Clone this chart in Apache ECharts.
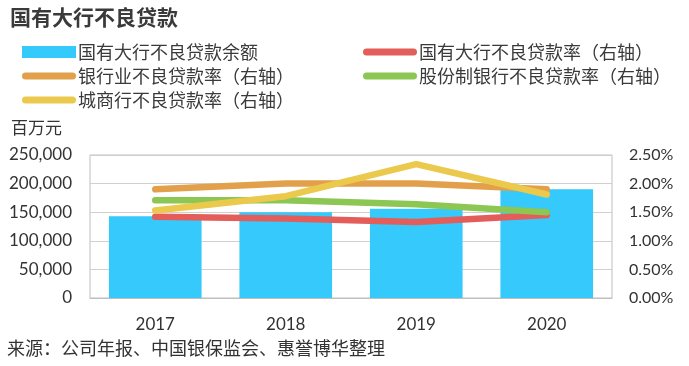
<!DOCTYPE html>
<html><head><meta charset="utf-8">
<script src="https://cdn.jsdelivr.net/npm/echarts@6/dist/echarts.min.js"></script>
<style>html,body{margin:0;padding:0;background:#fff}#c{width:689px;height:366px}</style>
</head><body><div id="c"></div>
<script>
var years = ['2017','2018','2019','2020'];
var bigBankNplAmount = [143000, 150000, 156000, 190000];
var bigBankNplRatio = [1.42, 1.39, 1.33, 1.45];
var industryNplRatio = [1.90, 2.00, 2.00, 1.90];
var jointStockNplRatio = [1.71, 1.71, 1.64, 1.50];
var cityBankNplRatio = [1.53, 1.78, 2.34, 1.81];
var leftTicks = [0, 250000, 50000];
var rightTicks = [0, 2.5, 0.5];

var names = ['国有大行不良贷款余额','国有大行不良贷款率（右轴）','银行业不良贷款率（右轴）','股份制银行不良贷款率（右轴）','城商行不良贷款率（右轴）'];
var colors = ['#36c9fb','#e35d5a','#e3a04a','#8cc653','#ebc94c'];
var FONT = "Lato, 'Noto Sans CJK SC', sans-serif";
var CJK = "'Noto Sans CJK SC', sans-serif";
var LINE_ICON = 'path://M3.5,0 L50.5,0 A3.5,3.5 0 0 1 50.5,7 L3.5,7 A3.5,3.5 0 0 1 3.5,0 Z';

var chart = echarts.init(document.getElementById('c'));
function lineSeries(i, data){
  return {name:names[i], type:'line', yAxisIndex:1, data:data, symbol:'none',
    lineStyle:{width:6.5, color:colors[i], cap:'round', join:'round'}, itemStyle:{color:colors[i]}, z:3};
}
var legendText = {fontFamily:CJK, fontSize:18, color:'#3a3a3a', padding:[0,0,0,-3]};
chart.setOption({
  animation:false,
  textStyle:{fontFamily:FONT},
  title:{text:'国有大行不良贷款', left:5, top:2, textStyle:{fontFamily:CJK, fontSize:21, fontWeight:'bold', color:'#3a3a3a'}},
  graphic:[
    {type:'text', left:11, top:119, style:{text:'百万元', font:"17px 'Noto Sans CJK SC'", fill:'#333'}},
    {type:'text', left:7, top:339, style:{text:'来源：公司年报、中国银保监会、惠誉博华整理', font:"18px 'Noto Sans CJK SC'", fill:'#333'}}
  ],
  legend:[
    {left:17, top:38, orient:'vertical', itemGap:6, itemWidth:54, itemHeight:12, symbolKeepAspect:true,
     data:[{name:names[0], icon:'rect'},{name:names[2], icon:LINE_ICON},{name:names[4], icon:LINE_ICON}],
     textStyle:legendText},
    {left:358, top:38, orient:'vertical', itemGap:6, itemWidth:54, itemHeight:12, symbolKeepAspect:true,
     data:[{name:names[1], icon:LINE_ICON},{name:names[3], icon:LINE_ICON}],
     textStyle:legendText}
  ],
  grid:{left:90, right:77, top:155, bottom:68, show:true, borderColor:'#bfbfbf', borderWidth:1},
  xAxis:{type:'category', data:years, axisTick:{show:false},
    axisLine:{lineStyle:{color:'#bfbfbf'}},
    axisLabel:{fontSize:17, color:'#333', margin:18}},
  yAxis:[
    {type:'value', min:leftTicks[0], max:leftTicks[1], interval:leftTicks[2],
     axisLine:{show:false}, axisTick:{show:false},
     splitLine:{lineStyle:{color:'#d0d0d0'}},
     axisLabel:{fontSize:17, color:'#333', margin:18, formatter:function(v){return v.toLocaleString('en-US');}}},
    {type:'value', min:rightTicks[0], max:rightTicks[1], interval:rightTicks[2],
     axisLine:{show:false}, axisTick:{show:false}, splitLine:{show:false},
     axisLabel:{fontSize:16, color:'#333', margin:17, formatter:function(v){return v.toFixed(2)+'%';}}}
  ],
  series:[
    {name:names[0], type:'bar', data:bigBankNplAmount, barWidth:'71%', itemStyle:{color:colors[0]}, z:2},
    lineSeries(1, bigBankNplRatio),
    lineSeries(2, industryNplRatio),
    lineSeries(3, jointStockNplRatio),
    lineSeries(4, cityBankNplRatio)
  ]
});
</script></body></html>
